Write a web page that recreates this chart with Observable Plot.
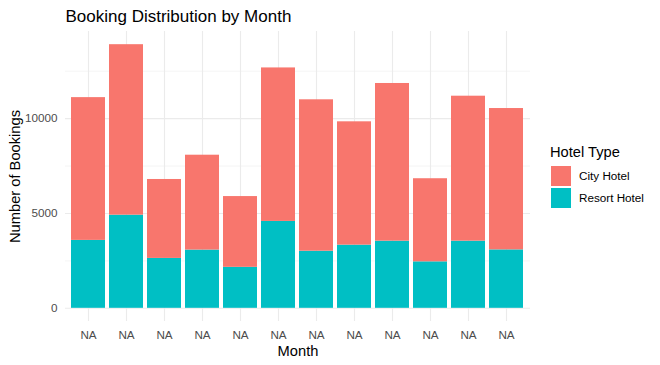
<!DOCTYPE html>
<html><head><meta charset="utf-8">
<script src="https://cdn.jsdelivr.net/npm/d3@7"></script>
<script src="https://cdn.jsdelivr.net/npm/@observablehq/plot@0.6"></script>
<style>body{margin:0;background:#fff;}</style>
</head><body><div id="chart"></div>
<script>
const chartTitle = "Booking Distribution by Month";
const xTitle = "Month";
const yTitle = "Number of Bookings";
const legendTitle = "Hotel Type";
const months = ["m01","m02","m03","m04","m05","m06","m07","m08","m09","m10","m11","m12"];
const tickLabels = ["NA","NA","NA","NA","NA","NA","NA","NA","NA","NA","NA","NA"];
const resortHotel = [3580, 4910, 2630, 3070, 2160, 4580, 3010, 3330, 3540, 2450, 3540, 3080];
const cityHotel = [7525, 8985, 4160, 5000, 3730, 8090, 7980, 6500, 8310, 4380, 7640, 7450];
const hotelTypes = ["City Hotel", "Resort Hotel"];
const hotelColors = ["#F8766D", "#00BFC4"];
const yTicks = [0, 5000, 10000];
const yMinor = [2500, 7500, 12500];

const rows = [];
months.forEach((m, i) => {
  rows.push({month: m, type: "Resort Hotel", n: resortHotel[i]});
  rows.push({month: m, type: "City Hotel", n: cityHotel[i]});
});

const plot = Plot.plot({
  width: 660, height: 365,
  marginLeft: 65, marginRight: 130, marginTop: 31, marginBottom: 44,
  style: {fontFamily: "'Liberation Sans', Arial, sans-serif", fontSize: "11.7px", background: "#fff"},
  x: {domain: months, paddingInner: 0.1, paddingOuter: 0.15, axis: null},
  y: {domain: [-695, 14590], axis: null},
  color: {domain: hotelTypes, range: hotelColors},
  marks: [
    Plot.ruleY(yMinor, {stroke: "#EBEBEB", strokeWidth: 0.55}),
    Plot.ruleY(yTicks, {stroke: "#EBEBEB", strokeWidth: 1.1}),
    Plot.ruleX(months, {x: d => d, stroke: "#EBEBEB", strokeWidth: 1.1}),
    Plot.barY(rows, {x: "month", y: "n", fill: "type", order: ["Resort Hotel", "City Hotel"], inset: 0}),
    Plot.text(yTicks, {y: d => d, text: d => String(d), frameAnchor: "left", textAnchor: "end", lineAnchor: "middle", dx: -8, fill: "#4D4D4D", fontSize: 11.7}),
    Plot.text(months, {x: d => d, text: (d, i) => tickLabels[i], frameAnchor: "bottom", lineAnchor: "middle", textAnchor: "middle", dy: 14, fill: "#4D4D4D", fontSize: 11.7}),
    Plot.text([xTitle], {text: d => d, frameAnchor: "bottom", lineAnchor: "middle", textAnchor: "middle", dy: 30, fill: "#000", fontSize: 14.7}),
    Plot.text([yTitle], {text: d => d, frameAnchor: "left", textAnchor: "middle", lineAnchor: "middle", dx: -50, rotate: -90, fill: "#000", fontSize: 14.7}),
    Plot.text([chartTitle], {text: d => d, frameAnchor: "top-left", textAnchor: "start", lineAnchor: "middle", dy: -15, fill: "#000", fontSize: 17})
  ]
});

const svg = d3.select(plot);
const lg = svg.append("g").attr("font-family", "'Liberation Sans', Arial, sans-serif").attr("text-anchor", "start");
lg.append("text").attr("x", 550).attr("y", 157).attr("font-size", 14.7).attr("fill", "#000").attr("text-anchor", "start").text(legendTitle);
hotelTypes.forEach((t, i) => {
  const y0 = 166 + i * 22;
  lg.append("rect").attr("x", 551).attr("y", y0).attr("width", 20).attr("height", 20).attr("fill", hotelColors[i]);
  lg.append("text").attr("x", 579).attr("y", y0 + 10).attr("dy", "0.35em").attr("font-size", 11.7).attr("fill", "#000").attr("text-anchor", "start").text(t);
});

document.getElementById("chart").appendChild(plot);
</script>
</body></html>
